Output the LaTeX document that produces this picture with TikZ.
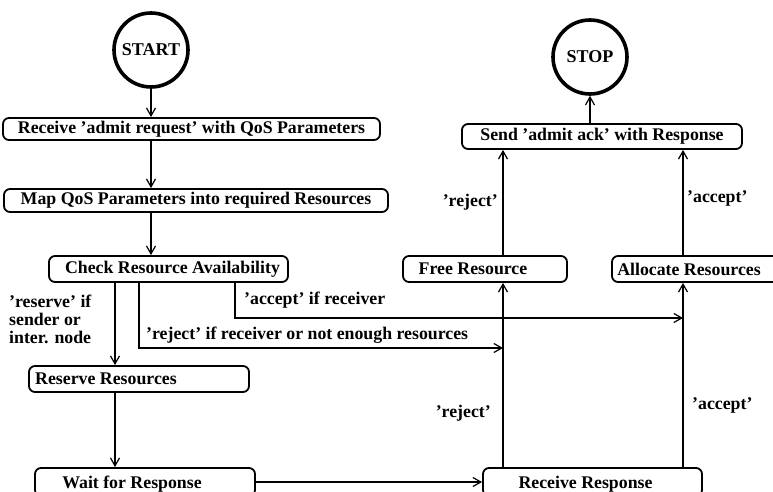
\documentclass[tikz,border=0pt]{standalone}
\usepackage{fontspec}
\setmainfont{Liberation Serif}
\usetikzlibrary{arrows.meta}

\begin{document}
\begin{tikzpicture}[x=1pt,y=-1pt,
  txt/.style={font=\fontsize{17.8}{18}\selectfont\bfseries, inner sep=0pt},
  proc/.style={draw, line width=1.8pt, rounded corners=6pt, inner sep=0pt},
  term/.style={draw, circle, line width=3.6pt, minimum size=74pt, inner sep=0pt,
               font=\fontsize{18}{20}\selectfont\bfseries},
  flow/.style={line width=1.2pt, -{Straight Barb[length=8pt,width=9pt,line width=1.2pt]}},
  plain/.style={line width=1.2pt}
]
\useasboundingbox (0,0) rectangle (773,492);
\clip (0,0) rectangle (773,492);

% terminals
\node[term] (start) at (151,50) {START};
\node[term] (stop)  at (590,57) {STOP};

% process boxes on the left
\node[proc, minimum width=377pt, minimum height=22pt,
      label={[txt]center:Receive ’admit request’ with QoS Parameters}] (recv) at (191.5,129) {};
\node[proc, minimum width=384pt, minimum height=23pt,
      label={[txt]center:Map QoS Parameters into required Resources}] (map) at (196,200.5) {};
\node[proc, minimum width=239pt, minimum height=26pt,
      label={[txt,xshift=4pt]center:Check Resource Availability}] (check) at (168.5,269) {};
\node[proc, minimum width=220pt, minimum height=26pt,
      label={[txt,xshift=-33pt]center:Reserve Resources}] (reserve) at (139,379) {};
\node[proc, minimum width=220pt, minimum height=28pt,
      label={[txt,xshift=-13pt,yshift=-2pt]center:Wait for Response}] (wait) at (145,482) {};

% process boxes on the right
\node[proc, minimum width=219pt, minimum height=28pt,
      label={[txt,xshift=-7pt,yshift=-2pt]center:Receive Response}] (rresp) at (592.5,482) {};
\node[proc, minimum width=164pt, minimum height=26pt,
      label={[txt,xshift=-12pt]center:Free Resource}] (free) at (485,269) {};
\node[proc, minimum width=178pt, minimum height=26pt,
      label={[txt,xshift=-12pt]center:Allocate Resources}] (alloc) at (701,269) {};
\node[proc, minimum width=280pt, minimum height=25pt,
      label={[txt]center:Send ’admit ack’ with Response}] (send) at (602,136.5) {};

% columns used by the vertical connectors
\coordinate (cmain) at (151,0);
\coordinate (cres)  at (115,0);
\coordinate (crej)  at (139,0);
\coordinate (cacc)  at (235,0);
\coordinate (cfree) at (503,0);
\coordinate (calloc) at (683,0);
\coordinate (racc) at (683,318);
\coordinate (rrej) at (503,348);

% main chain
\draw[flow] (start.south) -- (start.south |- recv.north);
\draw[flow] (recv.south -| cmain) -- (map.north -| cmain);
\draw[flow] (map.south -| cmain) -- (check.north -| cmain);
\draw[flow] (check.south -| cres) -- (reserve.north -| cres);
\draw[flow] (reserve.south -| cres) -- (wait.north -| cres);
\draw[flow] (wait.east) -- (rresp.west);

% branches out of the availability check
\draw[flow] (check.south -| cacc) |- (racc);
\draw[flow] (check.south -| crej) |- (rrej);

% responses
\draw[flow] (rresp.north -| cfree) -- (free.south -| cfree);
\draw[flow] (rresp.north -| calloc) -- (alloc.south -| calloc);
\draw[flow] (free.north -| cfree) -- (send.south -| cfree);
\draw[flow] (alloc.north -| calloc) -- (send.south -| calloc);
\draw[flow] (stop.south |- send.north) -- (stop.south);

% connector labels
\node[txt, anchor=west, align=left] (lres) at (9,319)
  {’reserve’ if\\sender or\\inter. node};
\node[txt, anchor=west] (lacc) at (244,300) {’accept’ if receiver};
\node[txt, anchor=west] (lrej) at (146,335) {’reject’ if receiver or not enough resources};
\node[txt, anchor=east] (lrej2) at (491,413) {’reject’};
\node[txt, anchor=west] (lacc2) at (692,405) {’accept’};
\node[txt, anchor=east] (lrej3) at (498,202) {’reject’};
\node[txt, anchor=west] (lacc3) at (687,198) {’accept’};
\end{tikzpicture}
\end{document}
